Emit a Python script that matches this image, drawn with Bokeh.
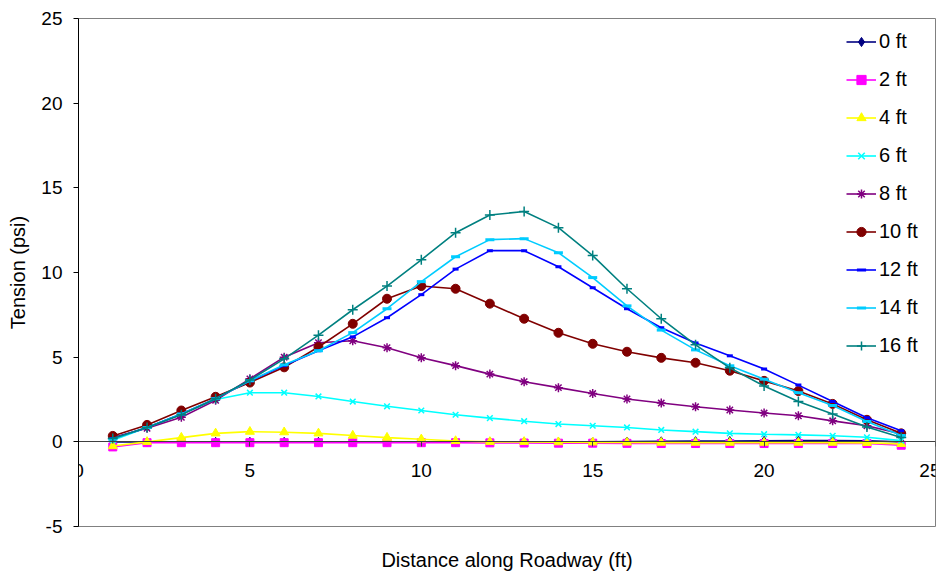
from bokeh.plotting import figure
from bokeh.models import Range1d, FixedTicker, Legend, LegendItem, LinearAxis, PrintfTickFormatter
from bokeh.embed import file_html
from bokeh.resources import INLINE

# ---- data ----
distance = list(range(1, 25))
x_ticks = [0, 5, 10, 15, 20, 25]
y_ticks = [-5, 0, 5, 10, 15, 20, 25]

series_labels = ["0 ft", "2 ft", "4 ft", "6 ft", "8 ft", "10 ft", "12 ft", "14 ft", "16 ft"]

t0 = [0.0, 0.0, 0.0, 0.0, 0.0, 0.0, 0.0, 0.0, 0.0, 0.0, 0.0, 0.0,
      0.0, 0.0, 0.0, 0.02, 0.03, 0.04, 0.05, 0.06, 0.07, 0.07, 0.06, 0.0]
t2 = [-0.3, -0.05, -0.05, -0.05, -0.05, -0.05, -0.05, -0.05, -0.05, -0.05, -0.05, -0.06,
      -0.07, -0.08, -0.08, -0.09, -0.1, -0.1, -0.1, -0.1, -0.1, -0.1, -0.1, -0.2]
t4 = [-0.25, 0.0, 0.25, 0.5, 0.6, 0.57, 0.5, 0.37, 0.25, 0.15, 0.05, 0.0,
      0.0, -0.02, -0.03, -0.04, -0.05, -0.05, -0.05, -0.05, -0.05, -0.05, -0.06, -0.12]
t6 = [0.1, 0.85, 1.65, 2.5, 2.9, 2.9, 2.68, 2.38, 2.1, 1.85, 1.6, 1.4,
      1.22, 1.05, 0.95, 0.85, 0.7, 0.6, 0.5, 0.45, 0.41, 0.36, 0.27, 0.07]
t8 = [0.25, 0.8, 1.45, 2.45, 3.72, 5.0, 5.85, 5.97, 5.56, 4.97, 4.5, 4.0,
      3.55, 3.2, 2.85, 2.53, 2.29, 2.07, 1.88, 1.7, 1.54, 1.24, 0.95, 0.47]
t10 = [0.35, 1.0, 1.85, 2.66, 3.5, 4.4, 5.6, 6.97, 8.45, 9.2, 9.04, 8.16,
       7.27, 6.44, 5.79, 5.32, 4.96, 4.67, 4.2, 3.6, 3.0, 2.24, 1.3, 0.5]
t12 = [0.2, 0.85, 1.65, 2.55, 3.6, 4.5, 5.38, 6.2, 7.33, 8.69, 10.2, 11.29,
       11.29, 10.34, 9.1, 7.86, 6.74, 5.84, 5.08, 4.3, 3.35, 2.38, 1.42, 0.65]
t14 = [0.15, 0.85, 1.65, 2.55, 3.6, 4.55, 5.38, 6.45, 7.86, 9.46, 10.93, 11.94,
       12.0, 11.17, 9.7, 8.03, 6.6, 5.43, 4.49, 3.7, 2.9, 2.15, 1.2, 0.37]
t16 = [0.2, 0.85, 1.6, 2.55, 3.65, 4.9, 6.3, 7.8, 9.2, 10.75, 12.35, 13.4,
       13.6, 12.65, 11.0, 9.04, 7.27, 5.73, 4.37, 3.3, 2.38, 1.64, 0.87, 0.25]

series_values = [t0, t2, t4, t6, t8, t10, t12, t14, t16]

# ---- styles ----
colors = ["#000080", "#FF00FF", "#FFFF00", "#00FFFF", "#800080",
          "#800000", "#0000FF", "#00CCFF", "#008080"]
markers = ["diamond", "square", "triangle", "x", "asterisk",
           "circle", "dash", "dash", "cross"]
msizes = [9, 8, 9, 8, 9, 9, 6, 9, 10]
mwidths = [1, 1, 1, 1.5, 1.5, 1, 3, 3, 1.5]

FONT = "Liberation Sans"

p = figure(width=940, height=576, output_backend="svg", toolbar_location=None,
           x_range=Range1d(0, 25), y_range=Range1d(-5, 25),
           min_border_left=78, min_border_top=18, min_border_right=5,
           min_border_bottom=50)
p.grid.visible = False
p.outline_line_color = "#808080"
p.outline_line_width = 1
p.background_fill_color = "white"
p.border_fill_color = "white"

# x axis crossing at y = 0
xa = p.xaxis[0]
xa.fixed_location = 0
xa.ticker = FixedTicker(ticks=x_ticks)
xa.formatter = PrintfTickFormatter(format="%d")
xa.axis_line_color = "#404040"
xa.major_tick_line_color = "#404040"
xa.major_tick_out = 5
xa.major_tick_in = 0
xa.minor_tick_out = 0
xa.minor_tick_in = 0
xa.major_label_standoff = 17
xa.major_label_text_font = FONT
xa.major_label_text_font_size = "19px"
xa.major_label_text_color = "black"

# axis below that only carries the title
xt = LinearAxis(ticker=FixedTicker(ticks=[]), axis_line_color=None,
                major_tick_out=0, major_tick_in=0, minor_tick_out=0, minor_tick_in=0,
                axis_label="Distance along Roadway (ft)", axis_label_standoff=22,
                axis_label_text_font=FONT, axis_label_text_font_size="20px",
                axis_label_text_font_style="normal", axis_label_text_color="black")
p.add_layout(xt, "below")

ya = p.yaxis[0]
ya.ticker = FixedTicker(ticks=y_ticks)
ya.formatter = PrintfTickFormatter(format="%d")
ya.axis_line_color = "black"
ya.major_tick_line_color = "black"
ya.major_tick_out = 5
ya.major_tick_in = 0
ya.minor_tick_out = 0
ya.minor_tick_in = 0
ya.major_label_standoff = 11
ya.major_label_text_font = FONT
ya.major_label_text_font_size = "19px"
ya.major_label_text_color = "black"
ya.axis_label = "Tension (psi)"
ya.axis_label_text_font = FONT
ya.axis_label_text_font_size = "20px"
ya.axis_label_text_font_style = "normal"
ya.axis_label_text_color = "black"
ya.axis_label_standoff = 9

items = []
for lab, vals, c, m, s, w in zip(series_labels, series_values, colors, markers, msizes, mwidths):
    lr = p.line(distance, vals, line_color=c, line_width=1.6)
    sr = p.scatter(distance, vals, marker=m, size=s, line_color=c, fill_color=c,
                   line_width=w)
    items.append(LegendItem(label=lab, renderers=[lr, sr]))

legend = Legend(items=items, location=(768, 169), border_line_color=None,
                background_fill_alpha=0.0, padding=0, margin=0, spacing=15,
                label_height=23, glyph_height=23, glyph_width=30,
                label_standoff=3, label_text_font=FONT,
                label_text_font_size="20px", label_text_color="black")
p.add_layout(legend)

open("out.html", "w").write(file_html(p, INLINE))
